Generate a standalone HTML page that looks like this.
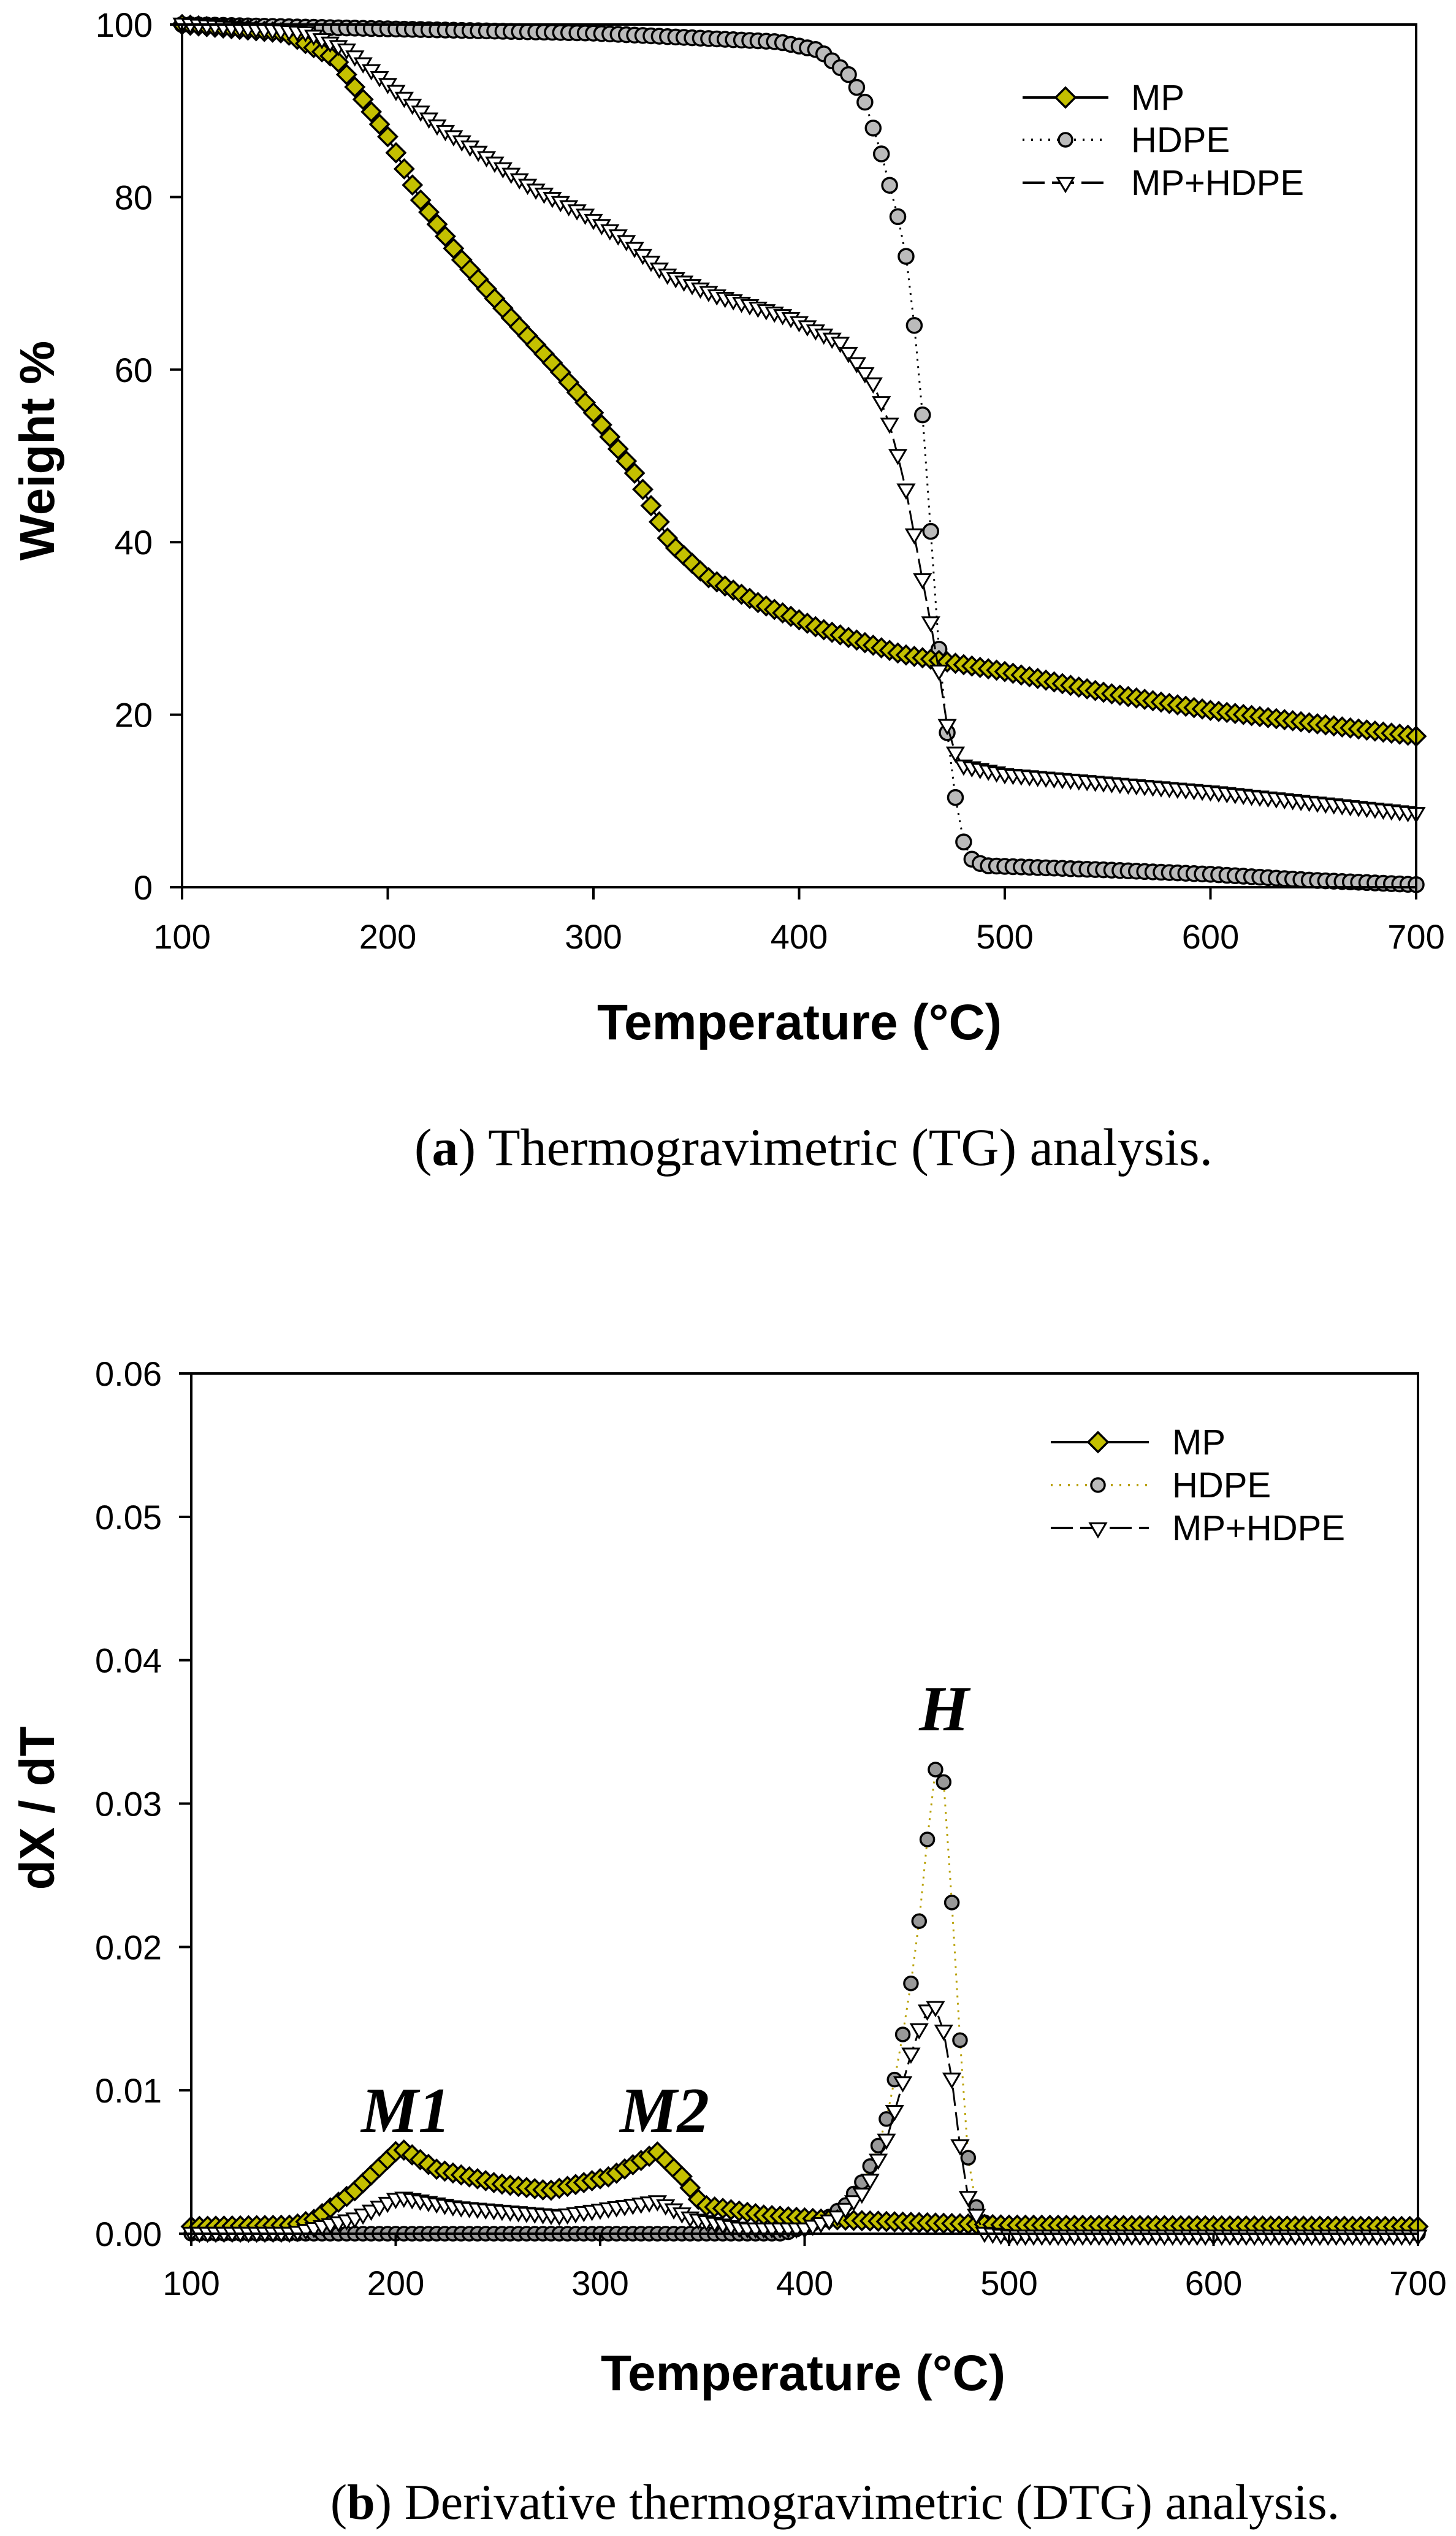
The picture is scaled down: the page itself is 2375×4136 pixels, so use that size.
<!DOCTYPE html>
<html><head><meta charset="utf-8"><style>
html,body{margin:0;padding:0;background:#fff;}
svg{display:block;}
</style></head><body>
<svg id="s" width="2375" height="4136" xmlns="http://www.w3.org/2000/svg" font-family="Liberation Sans, sans-serif"></svg>
<script>
const S=document.getElementById('s');let h='';
function interp(pts,x){if(x<=pts[0][0])return pts[0][1];for(let i=1;i<pts.length;i++){if(x<=pts[i][0]){const a=pts[i-1],b=pts[i];return a[1]+(b[1]-a[1])*(x-a[0])/(b[0]-a[0]);}}return pts[pts.length-1][1];}
function diamond(x,y,r){return `<path d="M${x} ${y-r}L${x+r} ${y}L${x} ${y+r}L${x-r} ${y}Z" fill="#c4c000" stroke="#000" stroke-width="3.5"/>`;}
function circ(x,y,r,f){return `<circle cx="${x}" cy="${y}" r="${r}" fill="${f}" stroke="#000" stroke-width="3.5"/>`;}
function tri(x,y,w){return `<path d="M${x-w} ${y-w*0.75}L${x+w} ${y-w*0.75}L${x} ${y+w*0.95}Z" fill="#fff" stroke="#000" stroke-width="3"/>`;}
function plot(P){
 const X=v=>P.x0+(v-100)/600*(P.x1-P.x0), Y=v=>P.y0+(v-P.ymin)/(P.ymax-P.ymin)*(P.y1-P.y0);
 P.series.forEach(sr=>{
  let pts=[];for(let t=100;t<=700.01;t+=4){pts.push([X(t),Y(interp(sr.d,t))]);}
  h+=`<polyline points="${pts.map(p=>p[0].toFixed(1)+','+p[1].toFixed(1)).join(' ')}" fill="none" stroke="${sr.lc||'#000'}" stroke-width="3" ${sr.dash?'stroke-dasharray="'+sr.dash+'"':''}/>`;
  pts.forEach(p=>{h+=sr.m(p[0],p[1]);});
 });
 h+=`<rect x="${P.x0}" y="${P.y1}" width="${P.x1-P.x0}" height="${P.y0-P.y1}" fill="none" stroke="#000" stroke-width="4"/>`;
 for(let v=100;v<=700;v+=100){const x=X(v);h+=`<line x1="${x}" y1="${P.y0}" x2="${x}" y2="${P.y0+20}" stroke="#000" stroke-width="4"/><text x="${x}" y="${P.y0+100}" font-size="56" text-anchor="middle">${v}</text>`;}
 P.yt.forEach(v=>{const y=Y(v);h+=`<line x1="${P.x0-20}" y1="${y}" x2="${P.x0}" y2="${y}" stroke="#000" stroke-width="4"/><text x="${P.x0-48}" y="${y+20}" font-size="56" text-anchor="end">${P.fmt(v)}</text>`;});
 const L=P.leg;
 [[0,'MP'],[1,'HDPE'],[2,'MP+HDPE']].forEach(([i,t])=>{const y=L.y[i];
  if(i==0)h+=`<line x1="${L.x0}" y1="${y}" x2="${L.x1}" y2="${y}" stroke="#000" stroke-width="4"/>`+diamond(L.xm,y,16);
  if(i==1)h+=`<line x1="${L.x0}" y1="${y}" x2="${L.x1}" y2="${y}" stroke="${L.dc}" stroke-width="4" stroke-dasharray="3 11"/>`+circ(L.xm,y,11,'#bbb');
  if(i==2)h+=`<line x1="${L.x0}" y1="${y}" x2="${L.x1}" y2="${y}" stroke="#000" stroke-width="4" stroke-dasharray="36 12"/>`+tri(L.xm,y+2,13);
  h+=`<text x="${L.xt}" y="${y+20}" font-size="58">${t}</text>`;});
}
const mpTG=[[100,100],[150,99],[175,96],[200,87],[215,80],[235,73],[260,66],[283,60],[300,55],[320,48],[337,40],[355,36],[380,33],[410,30],[450,27],[500,25],[550,22.5],[600,20.5],[650,19],[700,17.5]];
const hdTG=[[100,100],[300,99],[390,98],[410,97],[425,94],[432,91],[440,85],[451,75],[455,67.5],[459,58],[463,45],[467,30],[473,15.5],[478,7],[482,3.5],[490,2.5],[550,2],[600,1.5],[650,0.8],[700,0.3]];
const mxTG=[[100,100],[160,99],[180,97],[205,92],[225,88],[245,85],[270,81],[295,78],[315,75],[335,71],[360,68.5],[395,66],[420,63],[437,58],[445,53],[453,45],[458,38],[463,32],[468,25],[471,19.5],[476,15.5],[480,14],[500,13],[600,11],[700,8.5]];
plot({x0:297,x1:2310,y0:1447,y1:40,ymin:0,ymax:100,yt:[0,20,40,60,80,100],fmt:v=>v,
 series:[{d:hdTG,dash:'3 9',m:(x,y)=>circ(x,y,12,'#bbb')},{d:mpTG,m:(x,y)=>diamond(x,y,15)},{d:mxTG,dash:'30 10',m:(x,y)=>tri(x,y,13)}],
 leg:{x0:1668,x1:1808,xm:1738,xt:1845,y:[159,228,298],dc:'#000'}});
const mpD=[[100,0.0005],[150,0.0006],[160,0.001],[180,0.003],[202,0.006],[220,0.0045],[250,0.0035],[275,0.003],[305,0.004],[328,0.0057],[340,0.004],[350,0.002],[380,0.0013],[410,0.001],[450,0.0008],[500,0.0006],[700,0.0005]];
const hdD=[[100,0],[390,0],[400,0.0005],[410,0.001],[420,0.002],[430,0.004],[437,0.0065],[441,0.0085],[445,0.0115],[450,0.0155],[455,0.0204],[459,0.026],[463,0.032],[467,0.0335],[471,0.0255],[476,0.0135],[480,0.0053],[485,0.001],[500,0],[700,0]];
const mxD=[[100,0],[150,0],[180,0.001],[202,0.0025],[230,0.0018],[280,0.0012],[328,0.0022],[345,0.001],[370,0.0003],[400,0.0003],[415,0.001],[430,0.003],[440,0.0065],[448,0.0105],[453,0.013],[458,0.015],[462,0.016],[466,0.0155],[471,0.012],[475,0.007],[480,0.0025],[488,0],[500,-0.0002],[700,-0.0002]];
plot({x0:312,x1:2313,y0:3643,y1:2240,ymin:0,ymax:0.06,yt:[0,0.01,0.02,0.03,0.04,0.05,0.06],fmt:v=>v.toFixed(2),
 series:[{d:hdD,dash:'3 9',lc:'#b8a000',m:(x,y)=>circ(x,y,11,'#999')},{d:mpD,m:(x,y)=>diamond(x,y,15)},{d:mxD,dash:'30 10',m:(x,y)=>tri(x,y,13)}],
 leg:{x0:1714,x1:1874,xm:1791,xt:1912,y:[2352,2422,2492],dc:'#b8a000'}});
h+=`<text transform="translate(88,735) rotate(-90)" font-size="80" font-weight="bold" text-anchor="middle">Weight %</text>`;
h+=`<text x="1304" y="1695" font-size="82" font-weight="bold" text-anchor="middle">Temperature (°C)</text>`;
h+=`<text x="1327" y="1900" font-size="86" font-family="Liberation Serif, serif" text-anchor="middle">(<tspan font-weight="bold">a</tspan>) Thermogravimetric (TG) analysis.</text>`;
h+=`<text transform="translate(88,2949) rotate(-90)" font-size="80" font-weight="bold" text-anchor="middle">dX / dT</text>`;
h+=`<text x="1310" y="3898" font-size="82" font-weight="bold" text-anchor="middle">Temperature (°C)</text>`;
h+=`<text x="1362" y="4108" font-size="82" font-family="Liberation Serif, serif" text-anchor="middle">(<tspan font-weight="bold">b</tspan>) Derivative thermogravimetric (DTG) analysis.</text>`;
const lab=(x,y,t)=>`<text x="${x}" y="${y}" font-size="105" font-weight="bold" font-style="italic" font-family="Liberation Serif, serif" text-anchor="middle">${t}</text>`;
h+=lab(662,3477,'M1')+lab(1084,3477,'M2')+lab(1540,2822,'H');
S.innerHTML=h;
</script>
</body></html>
